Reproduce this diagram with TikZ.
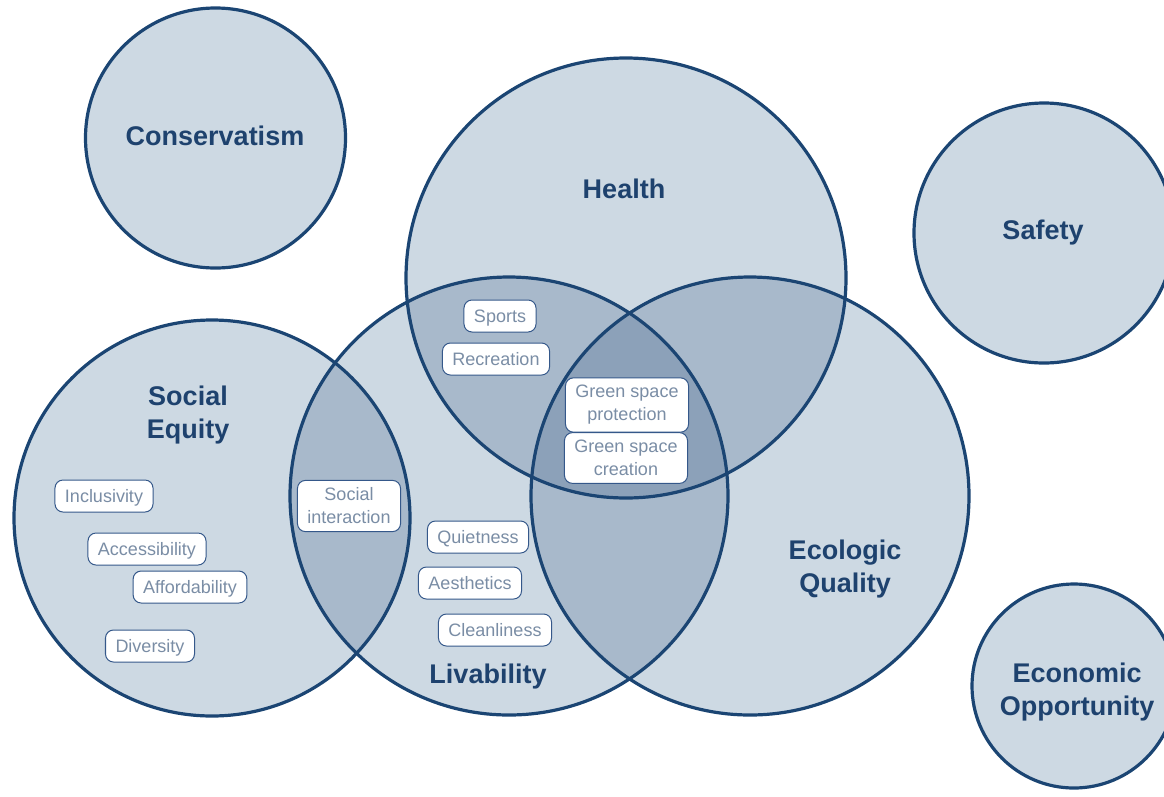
\documentclass[tikz,border=0pt]{standalone}
\usepackage{fontspec}
\setmainfont{Liberation Sans}
\definecolor{fillA}{HTML}{CDD9E3}
\definecolor{fillB}{HTML}{A8B9CB}
\definecolor{fillC}{HTML}{8CA1B9}
\definecolor{navy}{HTML}{1B4573}
\definecolor{txt}{HTML}{1E426E}
\definecolor{lbl}{HTML}{7A8DA5}
\definecolor{tagline}{HTML}{35588A}
\begin{document}
\begin{tikzpicture}[x=1pt,y=-1pt,
  ring/.style={draw=navy,line width=3.2pt},
  title/.style={font=\bfseries\fontsize{27}{33}\selectfont,text=txt,align=center},
  tag/.style={draw=tagline,line width=1pt,fill=white,rounded corners=8pt,text=lbl,
     font=\fontsize{18}{23}\selectfont,inner xsep=10pt,inner ysep=7.5pt,align=center},
  tag1/.style={tag,text height=15pt,text depth=2pt}]
\useasboundingbox (0,0) rectangle (1164,796);
% circle centres
\coordinate (C) at (215.5,138);
\coordinate (H) at (626,278);
\coordinate (S) at (1044,233);
\coordinate (Q) at (212,518);
\coordinate (L) at (509,496);
\coordinate (E) at (750,496);
\coordinate (O) at (1074,686);
% base fills
\fill[fillA] (C) circle (130pt);
\fill[fillA] (H) circle (220pt);
\fill[fillA] (S) circle (130pt);
\fill[fillA] (Q) circle (198pt);
\fill[fillA] (L) circle (219pt);
\fill[fillA] (E) circle (219pt);
\fill[fillA] (O) circle (102pt);
% pairwise overlaps
\begin{scope}\clip (H) circle (220pt); \fill[fillB] (L) circle (219pt);\end{scope}
\begin{scope}\clip (H) circle (220pt); \fill[fillB] (E) circle (219pt);\end{scope}
\begin{scope}\clip (L) circle (219pt); \fill[fillB] (E) circle (219pt);\end{scope}
\begin{scope}\clip (Q) circle (198pt); \fill[fillB] (L) circle (219pt);\end{scope}
% triple overlap
\begin{scope}\clip (H) circle (220pt); \clip (L) circle (219pt); \fill[fillC] (E) circle (219pt);\end{scope}
% outlines
\draw[ring] (C) circle (130pt);
\draw[ring] (H) circle (220pt);
\draw[ring] (S) circle (130pt);
\draw[ring] (Q) circle (198pt);
\draw[ring] (L) circle (219pt);
\draw[ring] (E) circle (219pt);
\draw[ring] (O) circle (102pt);
% titles
\node[title] (tC) at (215,136) {Conservatism};
\node[title] (tH) at (624,189) {Health};
\node[title] (tS) at (1043,233) {Safety};
\node[title] (tQ) at (188,415) {Social\\Equity};
\node[title] (tL) at (488,677) {Livability};
\node[title] (tE) at (845,569) {Ecologic\\Quality};
\node[title] (tO) at (1077,692) {Economic\\Opportunity};
% tags
\node[tag1] (sports) at (500,316) {Sports};
\node[tag1] (recr) at (496,359) {Recreation};
\node[tag] (gsp) at (627,405) {Green space\\protection};
\node[tag] (gsc) at (626,458) {Green space\\creation};
\node[tag1] (incl) at (104,496) {Inclusivity};
\node[tag1] (acc) at (147,549) {Accessibility};
\node[tag1] (aff) at (190,587) {Affordability};
\node[tag1] (div) at (150,646) {Diversity};
\node[tag] (soc) at (349,506) {Social\\interaction};
\node[tag1] (quiet) at (478,537) {Quietness};
\node[tag1] (aest) at (470,583) {Aesthetics};
\node[tag1] (clean) at (495,630) {Cleanliness};
\end{tikzpicture}
\end{document}
